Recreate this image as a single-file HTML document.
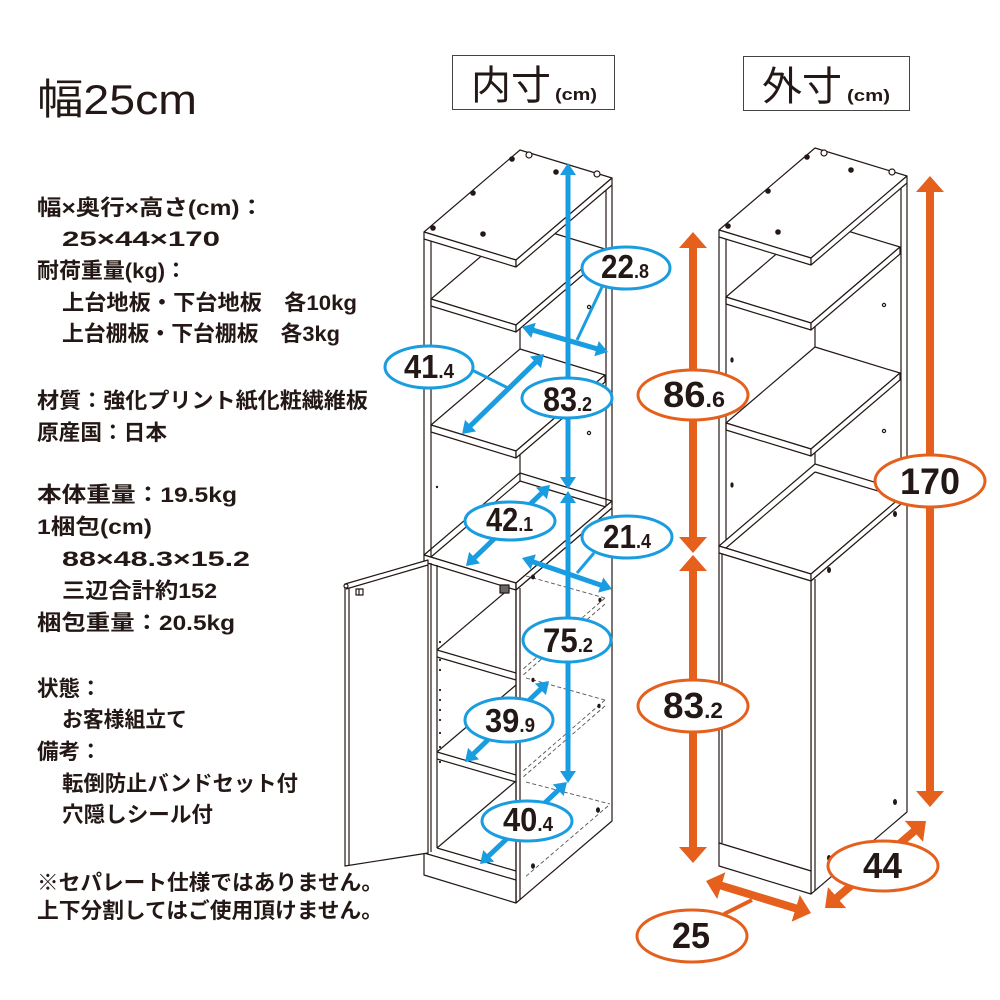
<!DOCTYPE html>
<html><head><meta charset="utf-8"><style>
html,body{margin:0;padding:0;background:#fff}
svg{display:block}
.t{font-family:"Liberation Sans","Noto Sans CJK JP",sans-serif;font-size:21.5px;font-weight:bold;fill:#231815}
.n{font-family:"Liberation Sans",sans-serif;font-weight:bold;fill:#231815}
</style></head><body>
<svg width="1000" height="1000" viewBox="0 0 1000 1000" xmlns="http://www.w3.org/2000/svg">
<defs>
<marker id="hb" viewBox="0 0 12 16" refX="6" refY="8" markerWidth="12" markerHeight="16" markerUnits="userSpaceOnUse" orient="auto-start-reverse"><path d="M0,0 L12,8 L0,16 z" fill="#1a9de0"/></marker>
<marker id="ho" viewBox="0 0 16 28" refX="6" refY="14" markerWidth="16" markerHeight="28" markerUnits="userSpaceOnUse" orient="auto-start-reverse"><path d="M0,0 L16,14 L0,28 z" fill="#e4601c"/></marker>
</defs>

<!-- ===== Title and spec text ===== -->
<text x="37" y="114" font-family="'Liberation Sans','Noto Sans CJK JP',sans-serif" font-size="42" fill="#231815" textLength="160" lengthAdjust="spacingAndGlyphs">幅25cm</text>

<text class="t" x="37" y="215" textLength="227" lengthAdjust="spacingAndGlyphs">幅×奥行×高さ(cm)：</text>
<text class="t" x="62" y="246" textLength="158" lengthAdjust="spacingAndGlyphs">25×44×170</text>
<text class="t" x="37" y="278" textLength="150" lengthAdjust="spacingAndGlyphs">耐荷重量(kg)：</text>
<text class="t" x="62" y="310" textLength="295" lengthAdjust="spacingAndGlyphs">上台地板・下台地板　各10kg</text>
<text class="t" x="62" y="341" textLength="278" lengthAdjust="spacingAndGlyphs">上台棚板・下台棚板　各3kg</text>
<text class="t" x="37" y="408" textLength="331" lengthAdjust="spacingAndGlyphs">材質：強化プリント紙化粧繊維板</text>
<text class="t" x="37" y="440" textLength="130" lengthAdjust="spacingAndGlyphs">原産国：日本</text>
<text class="t" x="37" y="502" textLength="200" lengthAdjust="spacingAndGlyphs">本体重量：19.5kg</text>
<text class="t" x="37" y="534" textLength="115" lengthAdjust="spacingAndGlyphs">1梱包(cm)</text>
<text class="t" x="62" y="566" textLength="188" lengthAdjust="spacingAndGlyphs">88×48.3×15.2</text>
<text class="t" x="62" y="598" textLength="155" lengthAdjust="spacingAndGlyphs">三辺合計約152</text>
<text class="t" x="37" y="630" textLength="198" lengthAdjust="spacingAndGlyphs">梱包重量：20.5kg</text>
<text class="t" x="37" y="696">状態：</text>
<text class="t" x="62" y="727" textLength="125" lengthAdjust="spacingAndGlyphs">お客様組立て</text>
<text class="t" x="37" y="759">備考：</text>
<text class="t" x="62" y="791" textLength="236" lengthAdjust="spacingAndGlyphs">転倒防止バンドセット付</text>
<text class="t" x="62" y="822" textLength="151" lengthAdjust="spacingAndGlyphs">穴隠しシール付</text>
<text class="t" x="37" y="890" textLength="346" lengthAdjust="spacingAndGlyphs">※セパレート仕様ではありません。</text>
<text class="t" x="37" y="918" textLength="346" lengthAdjust="spacingAndGlyphs">上下分割してはご使用頂けません。</text>

<!-- ===== Headers ===== -->
<rect x="452.5" y="55.5" width="162" height="54" fill="none" stroke="#444" stroke-width="1"/>
<text x="471" y="99" font-family="'Noto Sans CJK JP',sans-serif" font-size="40" fill="#231815">内寸</text>
<text x="555" y="100" class="n" font-size="17" textLength="42" lengthAdjust="spacingAndGlyphs">(cm)</text>
<rect x="743.5" y="56.5" width="166" height="54" fill="none" stroke="#444" stroke-width="1"/>
<text x="762" y="100" font-family="'Noto Sans CJK JP',sans-serif" font-size="40" fill="#231815">外寸</text>
<text x="847" y="101" class="n" font-size="17" textLength="43" lengthAdjust="spacingAndGlyphs">(cm)</text>

<!-- ===== INNER cabinet ===== -->
<g fill="#fff" stroke="#231815" stroke-width="1.2" stroke-linejoin="round">
  <!-- divider -->
  <polygon points="424,555 516,583 612,501 520,473"/>
  <polygon points="424,555 516,583 516,590 424,562"/>
  <polygon points="516,583 612,501 612,508 516,590"/>
  <line x1="431" y1="557" x2="520" y2="481"/>
  <line x1="520" y1="481" x2="606" y2="507"/>
  <!-- side panel lower -->
  <polygon points="516,590 612,508 612,821 516,903"/>
  <line x1="520" y1="588" x2="520" y2="900"/>
  <g stroke="#555" stroke-width="0.9" stroke-dasharray="4 2.5" fill="none">
    <line x1="526" y1="576" x2="605" y2="598"/>
    <line x1="605" y1="598" x2="522" y2="670"/>
    <line x1="605" y1="604" x2="522" y2="676"/>
    <line x1="526" y1="678" x2="605" y2="700"/>
    <line x1="605" y1="700" x2="522" y2="772"/>
    <line x1="605" y1="706" x2="522" y2="778"/>
    <line x1="526" y1="782" x2="610" y2="804"/>
    <line x1="608" y1="806" x2="524" y2="878"/>
  </g>
  <g fill="#231815" stroke="none">
    <ellipse cx="533" cy="577" rx="2" ry="2.5"/>
    <ellipse cx="600" cy="600" rx="1.6" ry="2.2"/>
    <ellipse cx="533" cy="680" rx="1.6" ry="2.2"/>
    <ellipse cx="599" cy="706" rx="1.6" ry="2.2"/>
    <ellipse cx="598" cy="810" rx="2" ry="2.8"/>
    <ellipse cx="533" cy="866" rx="2" ry="2.8"/>
  </g>
  <!-- interior lower -->
  <line x1="431" y1="563" x2="431" y2="852"/>
  <line x1="437" y1="565" x2="437" y2="848"/>
  <line x1="437" y1="650" x2="509" y2="589"/>
  <line x1="437" y1="650" x2="516" y2="673"/>
  <line x1="437" y1="657" x2="516" y2="680"/>
  <line x1="437" y1="752" x2="516" y2="685"/>
  <line x1="437" y1="752" x2="516" y2="775"/>
  <line x1="437" y1="759" x2="516" y2="782"/>
  <line x1="437" y1="848" x2="516" y2="781"/>
  <line x1="437" y1="848" x2="516" y2="871"/>
  <g fill="#231815" stroke="none">
    <circle cx="440" cy="642" r="1.1"/><circle cx="440" cy="660" r="1.1"/><circle cx="440" cy="670" r="1.1"/>
    <circle cx="440" cy="690" r="1.1"/><circle cx="440" cy="700" r="1.1"/><circle cx="440" cy="710" r="1.1"/>
    <circle cx="440" cy="720" r="1.1"/><circle cx="440" cy="733" r="1.1"/><circle cx="440" cy="747" r="1.1"/>
    <circle cx="440" cy="762" r="1.1"/><circle cx="437" cy="487" r="1.2"/>
  </g>
  <!-- plinth -->
  <polygon points="424,853 516,880 516,903 424,875"/>
  <line x1="516" y1="583" x2="516" y2="903"/>
  <!-- hinge -->
  <rect x="500" y="585" width="9" height="8" fill="#666"/>
  <!-- door -->
  <polygon points="345,584 428,560 428,853 345,866"/>
  <line x1="346" y1="589" x2="428" y2="565"/>
  <line x1="349" y1="588" x2="349" y2="865"/>
  <circle cx="346" cy="586" r="2"/>
  <rect x="356" y="589" width="7" height="6"/>
  <line x1="359" y1="589" x2="359" y2="595"/>
</g>

<!-- upper section inner -->
<g fill="#fff" stroke="#231815" stroke-width="1.2" stroke-linejoin="round">
  <line x1="520" y1="160" x2="520" y2="481"/>
  <line x1="606" y1="185" x2="606" y2="506"/>
  <line x1="612" y1="185" x2="612" y2="505"/>
  <circle cx="589" cy="307" r="1.6"/>
  <circle cx="589" cy="433" r="1.6"/>
  <polygon points="431,425 516,451 605,375 520,349"/>
  <polygon points="431,425 516,451 516,458 431,432"/>
  <polygon points="516,451 605,375 605,382 516,458"/>
  <polygon points="431,299 516,325 605,249 520,223"/>
  <polygon points="431,299 516,325 516,332 431,306"/>
  <polygon points="516,325 605,249 605,256 516,332"/>
  <line x1="424" y1="239" x2="424" y2="555"/>
  <line x1="431" y1="241" x2="431" y2="557"/>
  <polygon points="424,232 516,260 612,178 520,150"/>
  <polygon points="424,232 516,260 516,267 424,239"/>
  <polygon points="516,260 612,178 612,185 516,267"/>
  <g fill="#231815" stroke="none">
    <circle cx="512" cy="159" r="2.8"/><circle cx="556" cy="172" r="2.8"/>
    <circle cx="473" cy="193" r="2.8"/><circle cx="483" cy="234" r="2.8"/><circle cx="433" cy="228" r="2.8"/>
  </g>
  <circle cx="529" cy="155" r="3"/><circle cx="597" cy="174" r="3"/>
</g>

<!-- ===== OUTER cabinet ===== -->
<g fill="#fff" stroke="#231815" stroke-width="1.2" stroke-linejoin="round">
  <g transform="translate(295,-2)">
    <line x1="520" y1="160" x2="520" y2="481"/>
    <line x1="606" y1="185" x2="606" y2="506"/>
    <line x1="612" y1="185" x2="612" y2="505"/>
    <circle cx="589" cy="307" r="1.6"/>
    <circle cx="589" cy="433" r="1.6"/>
    <ellipse cx="437" cy="362" rx="1" ry="2" fill="#231815"/>
    <ellipse cx="437" cy="487" rx="1" ry="2" fill="#231815"/>
    <polygon points="431,425 516,451 605,375 520,349"/>
    <polygon points="431,425 516,451 516,458 431,432"/>
    <polygon points="516,451 605,375 605,382 516,458"/>
    <polygon points="431,299 516,325 605,249 520,223"/>
    <polygon points="431,299 516,325 516,332 431,306"/>
    <polygon points="516,325 605,249 605,256 516,332"/>
    <line x1="424" y1="239" x2="424" y2="550"/>
    <line x1="431" y1="241" x2="431" y2="552"/>
    <polygon points="424,232 516,260 612,178 520,150"/>
    <polygon points="424,232 516,260 516,267 424,239"/>
    <polygon points="516,260 612,178 612,185 516,267"/>
    <g fill="#231815" stroke="none">
      <circle cx="512" cy="159" r="2.8"/><circle cx="556" cy="172" r="2.8"/>
      <circle cx="473" cy="193" r="2.8"/><circle cx="483" cy="234" r="2.8"/><circle cx="433" cy="228" r="2.8"/>
    </g>
    <circle cx="529" cy="155" r="3"/><circle cx="597" cy="174" r="3"/>
  </g>
  <!-- divider -->
  <polygon points="719,546 811,574 907,492 815,464"/>
  <polygon points="719,546 811,574 811,581 719,553"/>
  <polygon points="811,574 907,492 907,499 811,581"/>
  <line x1="726" y1="548" x2="815" y2="472"/>
  <line x1="815" y1="472" x2="901" y2="498"/>
  <!-- side panel -->
  <polygon points="811,581 907,499 907,812 811,894"/>
  <line x1="815" y1="579" x2="815" y2="891"/>
  <!-- door -->
  <polygon points="719,553 811,581 811,871 719,843"/>
  <line x1="722" y1="554" x2="722" y2="843"/>
  <!-- plinth -->
  <polygon points="719,843 811,871 811,894 719,866"/>
  <g fill="#231815" stroke="none">
    <ellipse cx="829" cy="570" rx="2" ry="3"/>
    <ellipse cx="895" cy="514" rx="2" ry="3"/>
    <ellipse cx="895" cy="802" rx="2" ry="3"/>
    <ellipse cx="829" cy="858" rx="2" ry="3"/>
  </g>
</g>

<!-- ===== Blue arrows ===== -->
<g stroke="#1a9de0" stroke-width="5" fill="none">
  <line x1="568" y1="169" x2="568" y2="483" marker-start="url(#hb)" marker-end="url(#hb)"/>
  <line x1="568" y1="497" x2="568" y2="777" marker-start="url(#hb)" marker-end="url(#hb)"/>
  <line x1="527.8" y1="328.7" x2="602.2" y2="350.3" marker-start="url(#hb)" marker-end="url(#hb)"/>
  <line x1="466.3" y1="429.8" x2="539.7" y2="358.2" marker-start="url(#hb)" marker-end="url(#hb)"/>
  <line x1="470.3" y1="561.8" x2="545.7" y2="489.2" marker-start="url(#hb)" marker-end="url(#hb)"/>
  <line x1="527.7" y1="560" x2="606.3" y2="587" marker-start="url(#hb)" marker-end="url(#hb)"/>
  <line x1="469.3" y1="757.8" x2="544.7" y2="685.2" marker-start="url(#hb)" marker-end="url(#hb)"/>
  <line x1="484.4" y1="859.9" x2="562.6" y2="786.1" marker-start="url(#hb)" marker-end="url(#hb)"/>
</g>
<g stroke="#1a9de0" stroke-width="3" fill="none">
  <line x1="602" y1="287" x2="577" y2="340"/>
  <line x1="470" y1="369" x2="508" y2="388"/>
  <line x1="594" y1="553" x2="577" y2="573"/>
</g>

<!-- ===== Orange arrows ===== -->
<g stroke="#e4601c" stroke-width="8" fill="none">
  <line x1="693" y1="242" x2="693" y2="543" marker-start="url(#ho)" marker-end="url(#ho)"/>
  <line x1="693" y1="565" x2="693" y2="853" marker-start="url(#ho)" marker-end="url(#ho)"/>
  <line x1="930" y1="186" x2="930" y2="797" marker-start="url(#ho)" marker-end="url(#ho)"/>
  <line x1="832.6" y1="901.5" x2="918.4" y2="827.5" marker-start="url(#ho)" marker-end="url(#ho)"/>
  <line x1="715.6" y1="883.9" x2="801.4" y2="910.1" marker-start="url(#ho)" marker-end="url(#ho)"/>
</g>
<line x1="752" y1="900" x2="724" y2="914" stroke="#e4601c" stroke-width="4"/>

<!-- ===== Ellipses ===== -->
<g fill="#fff" stroke="#1a9de0" stroke-width="3">
  <ellipse cx="626" cy="268" rx="44" ry="21"/>
  <ellipse cx="429" cy="367" rx="44" ry="21"/>
  <ellipse cx="567" cy="398" rx="45" ry="20"/>
  <ellipse cx="510" cy="521" rx="45" ry="19"/>
  <ellipse cx="627" cy="537" rx="45" ry="21"/>
  <ellipse cx="567" cy="640" rx="44" ry="22"/>
  <ellipse cx="509" cy="720" rx="44" ry="22"/>
  <ellipse cx="527" cy="821" rx="45" ry="20"/>
</g>
<g fill="#fff" stroke="#e4601c" stroke-width="3">
  <ellipse cx="693" cy="395" rx="55" ry="25"/>
  <ellipse cx="693" cy="706" rx="55" ry="26"/>
  <ellipse cx="930" cy="481" rx="55" ry="26"/>
  <ellipse cx="883" cy="866" rx="55" ry="25"/>
  <ellipse cx="692" cy="936" rx="55" ry="26"/>
</g>

<!-- ===== Labels ===== -->
<text class="n" x="601" y="278" textLength="48" lengthAdjust="spacingAndGlyphs"><tspan font-size="33">22</tspan><tspan font-size="20">.8</tspan></text>
<text class="n" x="404" y="378" textLength="50" lengthAdjust="spacingAndGlyphs"><tspan font-size="33">41</tspan><tspan font-size="20">.4</tspan></text>
<text class="n" x="543" y="411" textLength="49" lengthAdjust="spacingAndGlyphs"><tspan font-size="34">83</tspan><tspan font-size="20">.2</tspan></text>
<text class="n" x="486" y="531" textLength="47" lengthAdjust="spacingAndGlyphs"><tspan font-size="33">42</tspan><tspan font-size="20">.1</tspan></text>
<text class="n" x="603" y="548" textLength="48" lengthAdjust="spacingAndGlyphs"><tspan font-size="33">21</tspan><tspan font-size="20">.4</tspan></text>
<text class="n" x="543" y="652" textLength="50" lengthAdjust="spacingAndGlyphs"><tspan font-size="34">75</tspan><tspan font-size="20">.2</tspan></text>
<text class="n" x="485" y="732" textLength="50" lengthAdjust="spacingAndGlyphs"><tspan font-size="33">39</tspan><tspan font-size="20">.9</tspan></text>
<text class="n" x="503" y="831" textLength="50" lengthAdjust="spacingAndGlyphs"><tspan font-size="33">40</tspan><tspan font-size="20">.4</tspan></text>

<text class="n" x="663" y="407" textLength="62" lengthAdjust="spacingAndGlyphs"><tspan font-size="36">86</tspan><tspan font-size="22">.6</tspan></text>
<text class="n" x="663" y="718" textLength="60" lengthAdjust="spacingAndGlyphs"><tspan font-size="36">83</tspan><tspan font-size="22">.2</tspan></text>
<text class="n" x="900" y="494" font-size="37" textLength="60" lengthAdjust="spacingAndGlyphs">170</text>
<text class="n" x="863" y="878" font-size="36" textLength="39" lengthAdjust="spacingAndGlyphs">44</text>
<text class="n" x="672" y="948" font-size="36" textLength="38" lengthAdjust="spacingAndGlyphs">25</text>
</svg>
</body></html>
